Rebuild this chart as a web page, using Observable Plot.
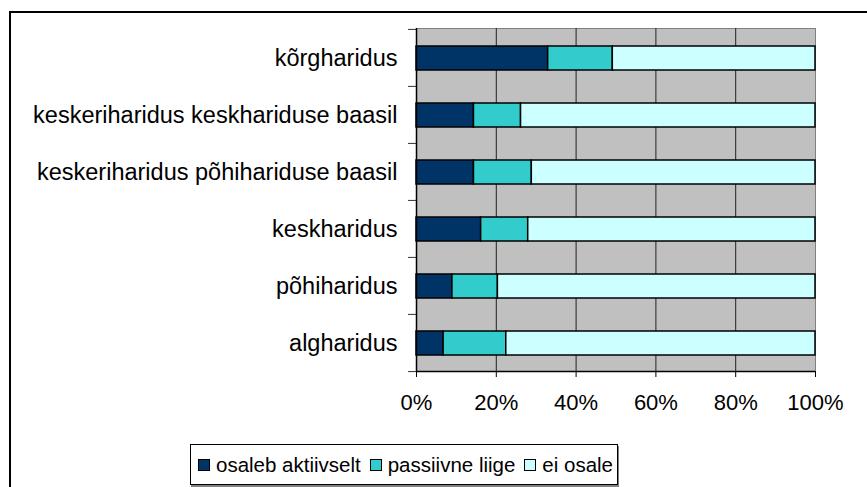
<!DOCTYPE html>
<html>
<head>
<meta charset="utf-8">
<script src="https://cdn.jsdelivr.net/npm/d3@7"></script>
<script src="https://cdn.jsdelivr.net/npm/@observablehq/plot@0.6"></script>
<style>
  html, body { margin: 0; padding: 0; background: #fff; }
  #wrap { position: relative; width: 867px; height: 487px; overflow: hidden; font-family: "Liberation Sans", Arial, sans-serif; }
  #chart { position: absolute; left: 0; top: 0; }
  .frameL { position: absolute; left: 9px; top: 11px; width: 2px; height: 480px; background: #000; }
  .frameT { position: absolute; left: 9px; top: 11px; width: 870px; height: 2px; background: #000; }
  #legend { position: absolute; left: 190px; top: 444px; width: 419px; height: 39px; border: 1px solid #000; background: #fff;
            box-shadow: 1px 2px 0 #808080; display: flex; align-items: center; padding-left: 7px; box-sizing: content-box;
            font-size: 20.5px; color: #000; white-space: nowrap; }
  .item { display: flex; align-items: center; margin-right: 9px; }
  .sw { width: 10px; height: 10px; border: 1px solid #000; margin-right: 6px; }
</style>
</head>
<body>
<div id="wrap">
  <div id="chart"></div>
  <div class="frameL"></div>
  <div class="frameT"></div>
  <div id="legend"></div>
</div>
<script>
const categories = [
  "kõrgharidus",
  "keskeriharidus keskhariduse baasil",
  "keskeriharidus põhihariduse baasil",
  "keskharidus",
  "põhiharidus",
  "algharidus"
];
const seriesNames = ["osaleb aktiivselt", "passiivne liige", "ei osale"];
const aktiivselt = [33.0, 14.4, 14.4, 16.2, 9.0, 6.8];
const passiivne  = [16.2, 11.8, 14.5, 11.8, 11.4, 15.7];
const eiOsale    = [50.8, 73.8, 71.1, 72.0, 79.6, 77.5];
const xTicks = [0, 20, 40, 60, 80, 100];
const colors = ["#003366", "#33CCCC", "#CCFFFF"];

const seriesValues = [aktiivselt, passiivne, eiOsale];
const rows = [];
categories.forEach((c, i) => {
  seriesNames.forEach((s, j) => rows.push({category: c, series: s, value: seriesValues[j][i]}));
});

const W = 867, H = 440, mT = 28, mB = 69, mL = 416, mR = 52;
const step = (H - mT - mB) / categories.length;

const chart = Plot.plot({
  width: W, height: H,
  marginLeft: mL, marginRight: mR, marginTop: mT, marginBottom: mB,
  style: {fontFamily: "'Liberation Sans', Arial, sans-serif", fontSize: "22px", color: "#000", background: "transparent", overflow: "visible"},
  x: {domain: [0, 100], label: null},
  y: {domain: categories, padding: 0, label: null},
  color: {domain: seriesNames, range: colors},
  marks: [
    Plot.frame({fill: "#c0c0c0", stroke: "#808080"}),
    Plot.ruleX(xTicks.slice(1, -1), {stroke: "#222", strokeWidth: 1}),
    Plot.barX(rows, {x: "value", y: "category", fill: "series", stroke: "#000", strokeWidth: 1.5, insetTop: 17, insetBottom: 16}),
    Plot.ruleX([0], {stroke: "#000", strokeWidth: 1.5}),
    Plot.ruleY([categories[categories.length - 1]], {dy: step / 2, stroke: "#000", strokeWidth: 1.5}),
    Plot.ruleY(categories, {x1: 0, x2: 0, insetLeft: -8, dy: -step / 2, stroke: "#333"}),
    Plot.ruleY([categories[categories.length - 1]], {x1: 0, x2: 0, insetLeft: -8, dy: step / 2, stroke: "#333"}),
    Plot.axisX(xTicks, {tickFormat: d => d + "%", tickSize: 6, tickPadding: 17, label: null, stroke: "#000"}),
    Plot.axisY({tickSize: 0, tickPadding: 19, label: null, fontSize: 23.5})
  ]
});
document.getElementById("chart").appendChild(chart);

const legend = document.getElementById("legend");
seriesNames.forEach((s, j) => {
  const it = document.createElement("div");
  it.className = "item";
  const sw = document.createElement("div");
  sw.className = "sw";
  sw.style.background = colors[j];
  const t = document.createElement("span");
  t.textContent = s;
  it.appendChild(sw); it.appendChild(t);
  legend.appendChild(it);
});
</script>
</body>
</html>
